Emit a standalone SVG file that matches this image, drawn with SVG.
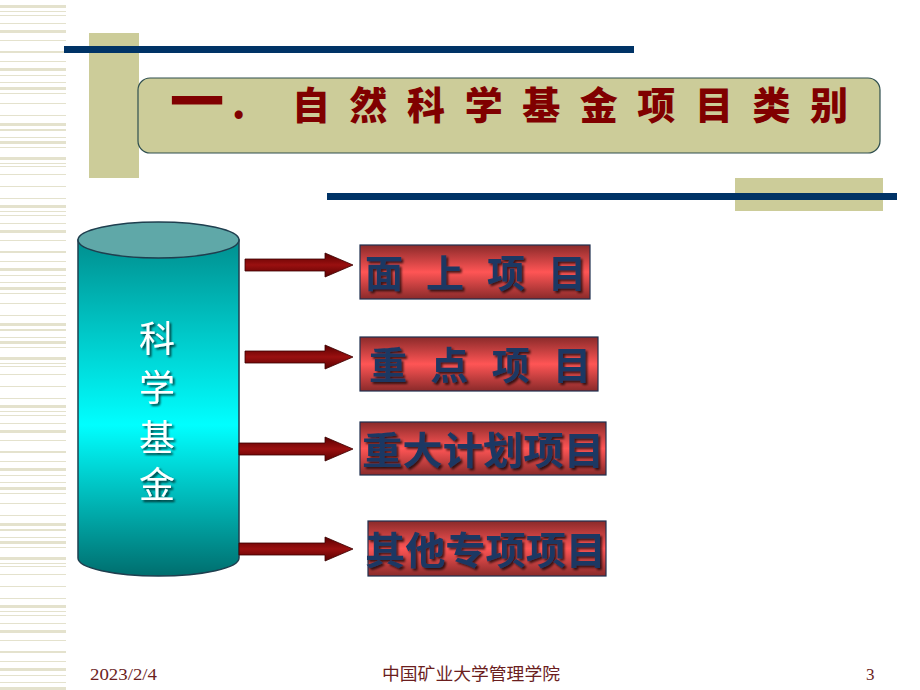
<svg xmlns="http://www.w3.org/2000/svg" width="920" height="690" viewBox="0 0 920 690">
<defs>
<style>
.stripe{fill:#e4e2cd}
.navy{fill:#003366}
.beige{fill:#cccc99}
.title{font-family:"Noto Sans CJK SC","Noto Sans",sans-serif;font-weight:900;fill:#800000;font-size:38px}
.cyl{font-family:"Noto Sans CJK SC",sans-serif;font-size:36px;fill:#ffffff}
.box{stroke:#1f2f4f;stroke-width:1.2;fill:url(#red)}
.btxt{font-family:"Noto Sans CJK SC",sans-serif;font-weight:700;font-size:38px;fill:#1f3864}
.arrow{fill:url(#arr);stroke:#3a0000;stroke-width:0.8}
.foot{font-family:"Liberation Serif","Noto Sans CJK SC",serif;font-size:17px;fill:#6b1e1e}
</style>
<pattern id="stripes" x="0" y="0" width="66" height="200" patternUnits="userSpaceOnUse">
<rect class="stripe" x="0" y="5" width="66" height="3"/>
<rect class="stripe" x="0" y="11" width="66" height="1"/>
<rect class="stripe" x="0" y="15" width="66" height="1"/>
<rect class="stripe" x="0" y="23" width="66" height="1"/>
<rect class="stripe" x="0" y="30" width="66" height="3"/>
<rect class="stripe" x="0" y="40" width="66" height="1"/>
<rect class="stripe" x="0" y="51" width="66" height="2"/>
<rect class="stripe" x="0" y="61" width="66" height="1"/>
<rect class="stripe" x="0" y="68" width="66" height="3"/>
<rect class="stripe" x="0" y="75" width="66" height="1"/>
<rect class="stripe" x="0" y="82" width="66" height="1"/>
<rect class="stripe" x="0" y="87" width="66" height="3"/>
<rect class="stripe" x="0" y="93" width="66" height="1"/>
<rect class="stripe" x="0" y="103" width="66" height="1"/>
<rect class="stripe" x="0" y="115" width="66" height="1"/>
<rect class="stripe" x="0" y="123" width="66" height="3"/>
<rect class="stripe" x="0" y="129" width="66" height="2"/>
<rect class="stripe" x="0" y="137" width="66" height="1"/>
<rect class="stripe" x="0" y="141" width="66" height="3"/>
<rect class="stripe" x="0" y="147" width="66" height="1"/>
<rect class="stripe" x="0" y="157" width="66" height="3"/>
<rect class="stripe" x="0" y="163" width="66" height="1"/>
<rect class="stripe" x="0" y="166" width="66" height="1"/>
<rect class="stripe" x="0" y="174" width="66" height="1"/>
<rect class="stripe" x="0" y="186" width="66" height="1"/>
<rect class="stripe" x="0" y="198" width="66" height="1"/>
</pattern>
<linearGradient id="cylg" x1="0" y1="0" x2="0" y2="1">
<stop offset="0" stop-color="#008f8f"/>
<stop offset="0.55" stop-color="#00ffff"/>
<stop offset="1" stop-color="#006e6e"/>
</linearGradient>
<linearGradient id="red" x1="0" y1="0" x2="0" y2="1">
<stop offset="0" stop-color="#8a2a2a"/>
<stop offset="0.5" stop-color="#ff5555"/>
<stop offset="1" stop-color="#8a2a2a"/>
</linearGradient>
<linearGradient id="arr" x1="0" y1="0" x2="0" y2="1">
<stop offset="0" stop-color="#5a0000"/>
<stop offset="0.5" stop-color="#9a1010"/>
<stop offset="1" stop-color="#5a0000"/>
</linearGradient>
<filter id="shadow" x="-20%" y="-20%" width="140%" height="140%">
<feDropShadow dx="2" dy="2" stdDeviation="0.8" flood-color="#000000" flood-opacity="0.7"/>
</filter>
</defs>
<rect x="0" y="0" width="920" height="690" fill="#ffffff"/>
<rect x="0" y="0" width="66" height="690" fill="url(#stripes)"/>

<g id="decor">
<rect class="beige" x="89" y="33" width="50" height="145"/>
<rect class="navy" x="64" y="46" width="570" height="7"/>
<rect class="beige" x="735" y="178" width="148" height="33"/>
<rect class="navy" x="327" y="193" width="570" height="7"/>
</g>

<g id="title">
<rect x="138" y="78" width="742" height="75" rx="12" ry="12" fill="#cccc99" stroke="#2f4f4f" stroke-width="1.2"/>
<text class="title" x="170" y="122" style="font-size:54px">一</text>
<text class="title" x="232" y="119">.</text>
<text class="title" x="292" y="119" textLength="556" lengthAdjust="spacing">自然科学基金项目类别</text>
</g>

<g id="fund">
<path d="M78,240 L78,558 A80.5,18 0 0 0 239,558 L239,240 Z" fill="url(#cylg)" stroke="#1f3f4f" stroke-width="1.5"/>
<ellipse cx="158.5" cy="240" rx="80.5" ry="18" fill="#5fa8a8" stroke="#1f3f4f" stroke-width="1.5"/>
<g class="cyl" filter="url(#shadow)" text-anchor="middle">
<text x="157" y="352">科</text>
<text x="157" y="401">学</text>
<text x="157" y="451">基</text>
<text x="157" y="498">金</text>
</g>
</g>

<g id="connectors">
<path class="arrow" d="M245,259 L325,259 L325,253 L353,265 L325,277 L325,271 L245,271 Z"/>
<path class="arrow" d="M245,351 L325,351 L325,345 L353,357 L325,369 L325,363 L245,363 Z"/>
<path class="arrow" d="M239,443 L325,443 L325,437 L353,449 L325,461 L325,455 L239,455 Z"/>
<path class="arrow" d="M239,543 L325,543 L325,537 L353,549 L325,561 L325,555 L239,555 Z"/>
</g>

<g id="item1">
<rect class="box" x="360" y="245" width="230" height="54"/>
<text class="btxt" x="365" y="287" textLength="221" lengthAdjust="spacing" filter="url(#shadow)">面 上 项 目</text>
</g>
<g id="item2">
<rect class="box" x="360" y="337" width="238" height="54"/>
<text class="btxt" x="369" y="379" textLength="222" lengthAdjust="spacing" filter="url(#shadow)">重 点 项 目</text>
</g>
<g id="item3">
<rect class="box" x="360" y="422" width="246" height="53"/>
<text class="btxt" x="362" y="464" textLength="242" lengthAdjust="spacingAndGlyphs" filter="url(#shadow)">重大计划项目</text>
</g>
<g id="item4">
<rect class="box" x="368" y="521" width="238" height="55"/>
<text class="btxt" x="365" y="564" textLength="241" lengthAdjust="spacingAndGlyphs" filter="url(#shadow)">其他专项项目</text>
</g>

<g id="footer">
<text class="foot" x="90" y="680" textLength="67" lengthAdjust="spacingAndGlyphs">2023/2/4</text>
<text class="foot" x="382" y="680" textLength="178" lengthAdjust="spacingAndGlyphs">中国矿业大学管理学院</text>
<text class="foot" x="866" y="680">3</text>
</g>
</svg>
